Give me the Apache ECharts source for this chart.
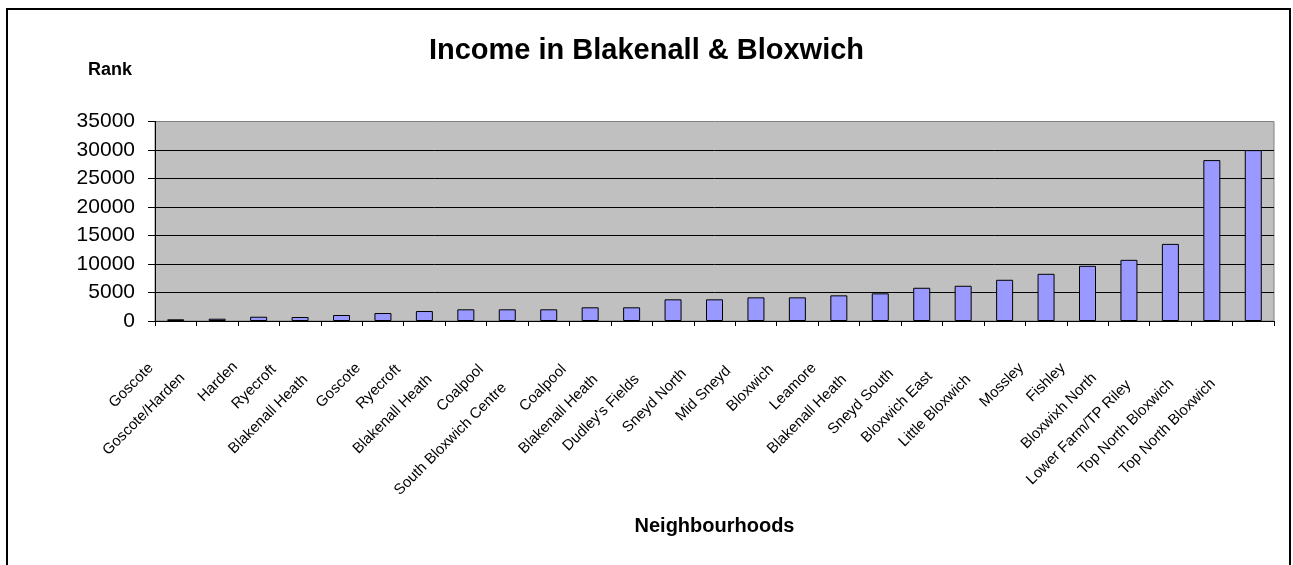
<!DOCTYPE html>
<html>
<head>
<meta charset="utf-8">
<title>Income in Blakenall & Bloxwich</title>
<script src="https://cdn.jsdelivr.net/npm/echarts@6/dist/echarts.min.js"></script>
<style>
  html, body { margin: 0; padding: 0; background: #fff; }
  #chart { width: 1293px; height: 565px; }
</style>
</head>
<body>
<div id="chart"></div>
<script>
// neighbourhood names as printed under each bar
const neighbourhoods = [
  'Goscote', 'Goscote/Harden', 'Harden', 'Ryecroft', 'Blakenall Heath',
  'Goscote', 'Ryecroft', 'Blakenall Heath', 'Coalpool', 'South Bloxwich Centre',
  'Coalpool', 'Blakenall Heath', "Dudley's Fields", 'Sneyd North', 'Mid Sneyd',
  'Bloxwich', 'Leamore', 'Blakenall Heath', 'Sneyd South', 'Bloxwich East',
  'Little Bloxwich', 'Mossley', 'Fishley', 'Bloxwixh North', 'Lower Farm/TP Riley',
  'Top North Bloxwich', 'Top North Bloxwich'
]
// income deprivation rank
const incomeRank = [
  300, 400, 750, 700, 1050,
  1400, 1750, 2050, 2050, 2050,
  2400, 2400, 3800, 3800, 4150,
  4150, 4500, 4850, 5830, 6180,
  7230, 8280, 9680, 10730, 13530,
  28230, 29980
]
const rankTicks = { min: 0, max: 35000, step: 5000 }

const chart = echarts.init(document.getElementById('chart'))
const font = "'Liberation Sans', Arial, sans-serif"

// excel pushes longer labels further down their slope, mimic it per label
const labelRich = {}
neighbourhoods.forEach((name, i) => {
  labelRich['n' + i] = {
    fontSize: 15,
    color: '#000',
    fontFamily: font,
    padding: [0, 21 + 2 * name.length, 0, 0]
  }
})

chart.setOption({
  animation: false,
  textStyle: { fontFamily: font },
  title: [{
    text: 'Income in Blakenall & Bloxwich',
    left: 'center',
    top: 36,
    padding: 0,
    textStyle: { fontSize: 29, fontWeight: 'bold', color: '#000', fontFamily: font }
  }, {
    text: 'Rank',
    left: 88,
    top: 61,
    padding: 0,
    textStyle: { fontSize: 18, fontWeight: 'bold', color: '#000', fontFamily: font }
  }],
  graphic: [{
    type: 'rect',
    shape: { x: 7, y: 9, width: 1283, height: 620 },
    style: { fill: 'none', stroke: '#000', lineWidth: 2 },
    silent: true
  }],
  grid: {
    left: 155,
    right: 19,
    top: 121.5,
    bottom: 244,
    show: true,
    backgroundColor: '#C0C0C0',
    borderColor: '#808080',
    borderWidth: 1
  },
  xAxis: {
    type: 'category',
    data: neighbourhoods,
    name: 'Neighbourhoods',
    nameLocation: 'middle',
    nameGap: 195,
    nameTextStyle: { fontSize: 20, fontWeight: 'bold', color: '#000', fontFamily: font },
    axisLine: { lineStyle: { color: '#000', width: 1 } },
    axisTick: { show: true, length: 5, lineStyle: { color: '#000' } },
    axisLabel: {
      interval: 0,
      rotate: 45,
      margin: 20,
      fontSize: 15,
      color: '#000',
      fontFamily: font,
      formatter: (value, i) => '{n' + i + '|' + value + '}',
      rich: labelRich
    }
  },
  yAxis: {
    type: 'value',
    min: rankTicks.min,
    max: rankTicks.max,
    interval: rankTicks.step,
    axisLine: { show: true, lineStyle: { color: '#000', width: 1 } },
    axisTick: { show: true, length: 7, lineStyle: { color: '#000' } },
    axisLabel: {
      fontSize: 21,
      color: '#000',
      margin: 20,
      fontFamily: font,
      formatter: (v) => String(v)
    },
    splitLine: { show: true, showMaxLine: false, lineStyle: { color: '#000', width: 1 } }
  },
  series: [{
    type: 'bar',
    data: incomeRank,
    barWidth: 17,
    itemStyle: { color: '#9999FF', borderColor: '#000', borderWidth: 1 }
  }]
})
</script>
</body>
</html>
